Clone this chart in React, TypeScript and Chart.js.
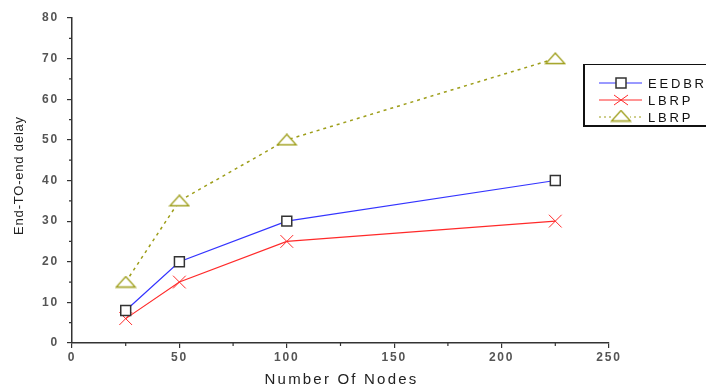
import React, { useEffect, useRef } from "react";
import { Chart, registerables } from "chart.js";

Chart.register(...registerables);

const nodes = [25, 50, 100, 225];
const eedbrDelay = [8, 20, 30, 40];
const lbrpDelay = [6, 15, 25, 30];
const lbrp2Delay = [15, 35, 50, 70];
const seriesNames = ["EEDBR", "LBRP", "LBRP"];
const xTitle = "Number Of Nodes";
const yTitle = "End-TO-end delay";

const BLUE = "#3434ff";
const RED = "#ff2a2a";
const OLIVE = "#9e9e1a";
const AXIS = "#333";
const FONT = "'Liberation Sans', Arial, sans-serif";

function makeTriangle(color: string): HTMLCanvasElement {
  const c = document.createElement("canvas");
  c.width = 22;
  c.height = 13;
  const g = c.getContext("2d")!;
  g.fillStyle = "white";
  g.strokeStyle = color;
  g.lineWidth = 1.3;
  g.beginPath();
  g.moveTo(11, 1);
  g.lineTo(20.5, 11.5);
  g.lineTo(1.5, 11.5);
  g.closePath();
  g.fill();
  g.stroke();
  return c;
}

const extras = {
  id: "extras",
  beforeDraw(chart: any) {
    (chart.ctx as any).letterSpacing = "1.8px";
  },
  afterDraw(chart: any) {
    const ctx = chart.ctx;
    (ctx as any).letterSpacing = "0px";
    const ca = chart.chartArea;
    const xs = chart.scales.x;
    const ys = chart.scales.y;
    ctx.save();
    // minor ticks
    ctx.strokeStyle = AXIS;
    ctx.lineWidth = 1.2;
    ctx.beginPath();
    for (let v = 25; v < 250; v += 50) {
      const px = xs.getPixelForValue(v);
      ctx.moveTo(px, ca.bottom);
      ctx.lineTo(px, ca.bottom + 3);
    }
    for (let v = 5; v < 80; v += 10) {
      const py = ys.getPixelForValue(v);
      ctx.moveTo(ca.left, py);
      ctx.lineTo(ca.left - 3, py);
    }
    ctx.stroke();
    // titles
    ctx.fillStyle = "#222";
    ctx.font = `15px ${FONT}`;
    ctx.textAlign = "center";
    ctx.textBaseline = "middle";
    (ctx as any).letterSpacing = "2.2px";
    ctx.fillText(xTitle, (ca.left + ca.right) / 2 + 1, 380);
    ctx.save();
    ctx.translate(19, (ca.top + ca.bottom) / 2 - 5);
    ctx.rotate(-Math.PI / 2);
    ctx.font = `13px ${FONT}`;
    (ctx as any).letterSpacing = "0.8px";
    ctx.fillText(yTitle, 0, 0);
    ctx.restore();
    // legend
    const lx = 583, ly = 64, lw = 140, lh = 62;
    ctx.fillStyle = "white";
    ctx.fillRect(lx, ly, lw, lh);
    ctx.strokeStyle = "#111";
    ctx.lineWidth = 1;
    ctx.strokeRect(lx + 0.5, ly + 0.5, lw, lh);
    ctx.beginPath();
    ctx.moveTo(lx + 1.5, ly);
    ctx.lineTo(lx + 1.5, ly + lh + 1);
    ctx.moveTo(lx, ly + lh - 0.5);
    ctx.lineTo(lx + lw, ly + lh - 0.5);
    ctx.stroke();
    const rows = [83, 100, 117];
    const colors = [BLUE, RED, OLIVE];
    const tri = makeTriangle(OLIVE);
    chart.data.datasets.forEach((ds: any, i: number) => {
      const y = rows[i];
      ctx.strokeStyle = colors[i];
      ctx.lineWidth = 1;
      ctx.setLineDash(i === 2 ? [2, 3] : []);
      ctx.beginPath();
      ctx.moveTo(599, y);
      ctx.lineTo(642, y);
      ctx.stroke();
      ctx.setLineDash([]);
      const cx = 621;
      if (i === 0) {
        ctx.fillStyle = "white";
        ctx.fillRect(cx - 5, y - 5, 10, 10);
        ctx.strokeStyle = AXIS;
        ctx.lineWidth = 1.5;
        ctx.strokeRect(cx - 5, y - 5, 10, 10);
      } else if (i === 1) {
        ctx.strokeStyle = RED;
        ctx.lineWidth = 1;
        ctx.beginPath();
        ctx.moveTo(cx - 7, y - 5);
        ctx.lineTo(cx + 7, y + 5);
        ctx.moveTo(cx + 7, y - 5);
        ctx.lineTo(cx - 7, y + 5);
        ctx.stroke();
      } else {
        ctx.fillStyle = "white";
        ctx.fillRect(cx - 9, y - 7, 18, 12);
        ctx.drawImage(tri, cx - tri.width / 2, y - tri.height / 2 - 1);
      }
      ctx.fillStyle = "#111";
      ctx.font = `13px ${FONT}`;
      ctx.textAlign = "left";
      ctx.textBaseline = "middle";
      (ctx as any).letterSpacing = "2.8px";
      ctx.fillText(ds.label, 648, y + 1);
      (ctx as any).letterSpacing = "0px";
    });
    ctx.restore();
  },
};

export default function App() {
  const ref = useRef<HTMLCanvasElement>(null);
  useEffect(() => {
    document.body.style.margin = "0";
    const tickFont = { family: FONT, size: 12, weight: "bold" as const };
    const tri = makeTriangle(OLIVE);
    const chart = new Chart(ref.current!, {
      type: "line",
      data: {
        datasets: [
          {
            label: seriesNames[0],
            data: nodes.map((x, i) => ({ x, y: eedbrDelay[i] })),
            borderColor: BLUE,
            borderWidth: 1.2,
            pointStyle: "rect",
            pointRadius: 7,
            pointBorderColor: AXIS,
            pointBackgroundColor: "white",
            pointBorderWidth: 1.5,
          },
          {
            label: seriesNames[1],
            data: nodes.map((x, i) => ({ x, y: lbrpDelay[i] })),
            borderColor: RED,
            borderWidth: 1.2,
            pointStyle: "crossRot",
            pointRadius: 9,
            pointBorderColor: RED,
            pointBorderWidth: 1,
          },
          {
            label: seriesNames[2],
            data: nodes.map((x, i) => ({ x, y: lbrp2Delay[i] })),
            borderColor: OLIVE,
            borderWidth: 1.5,
            borderDash: [3, 4],
            pointStyle: tri as any,
            pointRadius: 7,
          },
        ],
      },
      options: {
        animation: false,
        responsive: false,
        layout: { padding: { top: 18, right: 97, left: 0, bottom: 0 } },
        plugins: { legend: { display: false }, tooltip: { enabled: false } },
        scales: {
          x: {
            type: "linear",
            min: 0,
            max: 250,
            ticks: { stepSize: 50, font: tickFont, color: "#555", padding: 2, maxRotation: 0 },
            grid: { drawOnChartArea: false, drawTicks: true, tickLength: 5, color: AXIS, lineWidth: 1.2 },
            border: { color: AXIS, width: 1.5 },
            afterFit: (s: any) => { s.height = 46; },
          },
          y: {
            min: 0,
            max: 80,
            ticks: { stepSize: 10, font: tickFont, color: "#555", padding: 8 },
            grid: { drawOnChartArea: false, drawTicks: true, tickLength: 5, color: AXIS, lineWidth: 1.2 },
            border: { color: AXIS, width: 1.5 },
            afterFit: (s: any) => { s.width = 72; },
          },
        },
      },
      plugins: [extras],
    });
    return () => chart.destroy();
  }, []);
  return (
    <div style={{ position: "absolute", left: 0, top: 0, width: 706, height: 389, background: "white" }}>
      <canvas ref={ref} width={706} height={389} />
    </div>
  );
}
